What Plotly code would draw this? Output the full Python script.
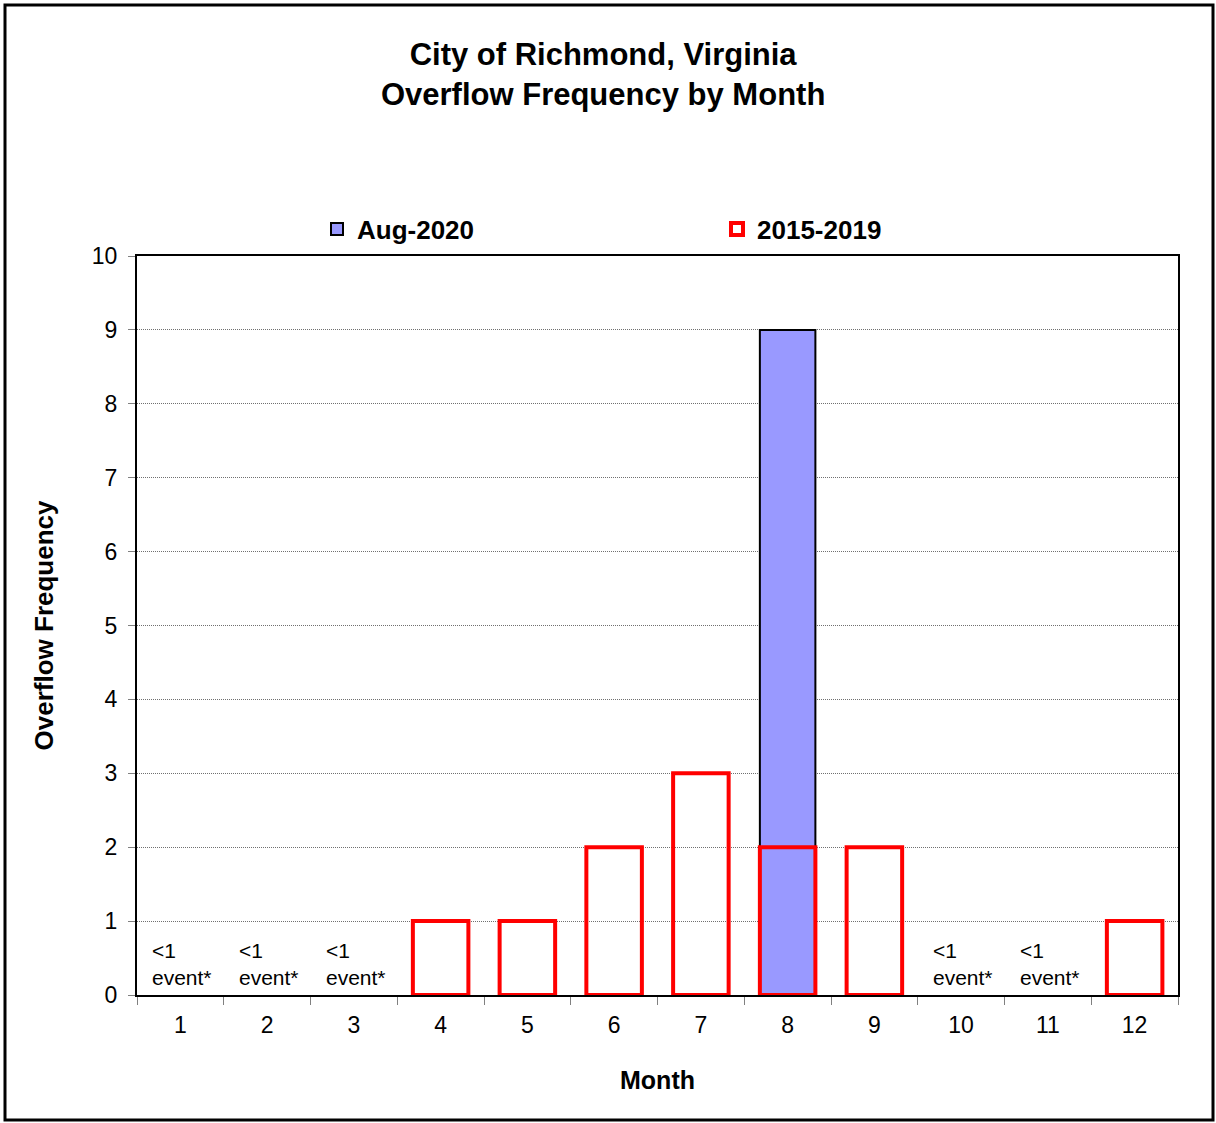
import plotly.graph_objects as go

months = ["1", "2", "3", "4", "5", "6", "7", "8", "9", "10", "11", "12"]
aug_2020 = [None, None, None, None, None, None, None, 9, None, None, None, None]
avg_2015_2019 = [0, 0, 0, 1, 1, 2, 3, 2, 2, 0, 0, 1]
low_label = "<1<br>event*"

W, H = 1216, 1123
ML, MR, MT, MB = 137, 38, 256, 128
PW, PH = W - ML - MR, H - MT - MB

FONT = "Arial, Liberation Sans, sans-serif"

fig = go.Figure()
fig.add_trace(go.Bar(
    x=months, y=aug_2020, name="<b>Aug-2020</b>", width=0.64,
    marker=dict(color="#9999FF", line=dict(color="black", width=2)),
    cliponaxis=False,
))
fig.add_trace(go.Bar(
    x=months, y=[v if v else None for v in avg_2015_2019], name="<b>2015-2019</b>", width=0.64,
    marker=dict(color="rgba(0,0,0,0)", line=dict(color="#FF0000", width=4)),
    cliponaxis=False,
))

for i, v in enumerate(avg_2015_2019):
    if v == 0:
        fig.add_annotation(x=i, y=0.42, text=low_label, showarrow=False, align="left",
                           xanchor="center", yanchor="middle", xshift=2,
                           font=dict(family=FONT, size=21, color="black"))

# outer border
fig.add_shape(type="rect", xref="paper", yref="paper",
              x0=(5 - ML) / PW, x1=(1213 - ML) / PW,
              y0=(H - MB - 1120) / PH, y1=(H - MB - 5) / PH,
              line=dict(color="black", width=3), fillcolor="rgba(0,0,0,0)", layer="below")

fig.update_layout(
    width=W, height=H,
    margin=dict(l=ML, r=MR, t=MT, b=MB),
    paper_bgcolor="white", plot_bgcolor="white",
    barmode="overlay",
    font=dict(family=FONT, color="black"),
    title=dict(text="<b>City of Richmond, Virginia<br>Overflow Frequency by Month</b>",
               x=0.496, xanchor="center", y=1 - 65 / H, yanchor="middle",
               font=dict(family=FONT, size=31, color="black")),
    legend=dict(orientation="h", x=(317 - ML) / PW, xanchor="left",
                y=1 + 27 / PH, yanchor="middle",
                entrywidth=355, entrywidthmode="pixels",
                font=dict(family=FONT, size=26, color="black"),
                bgcolor="rgba(0,0,0,0)"),
    showlegend=True,
)
fig.update_xaxes(
    type="category", tickson="boundaries", ticks="outside", ticklen=8, tickcolor="#808080",
    showline=True, linecolor="black", linewidth=2, mirror=True, showgrid=False,
    ticklabelstandoff=8,
    tickfont=dict(family=FONT, size=23, color="black"),
    title=dict(text="<b>Month</b>", font=dict(family=FONT, size=25, color="black"), standoff=35),
)
fig.update_yaxes(
    range=[0, 10], dtick=1, ticks="outside", ticklen=7, tickcolor="#808080",
    showline=True, linecolor="black", linewidth=2, mirror=True,
    showgrid=True, gridcolor="#707070", griddash="1px,1px", gridwidth=1, zeroline=False,
    ticklabelstandoff=6,
    tickfont=dict(family=FONT, size=23, color="black"),
    title=dict(text="<b>Overflow Frequency</b>", font=dict(family=FONT, size=26, color="black"), standoff=31),
)

fig.write_html("out.html", config={"displayModeBar": False},
               post_script="document.body.style.margin='0';")
